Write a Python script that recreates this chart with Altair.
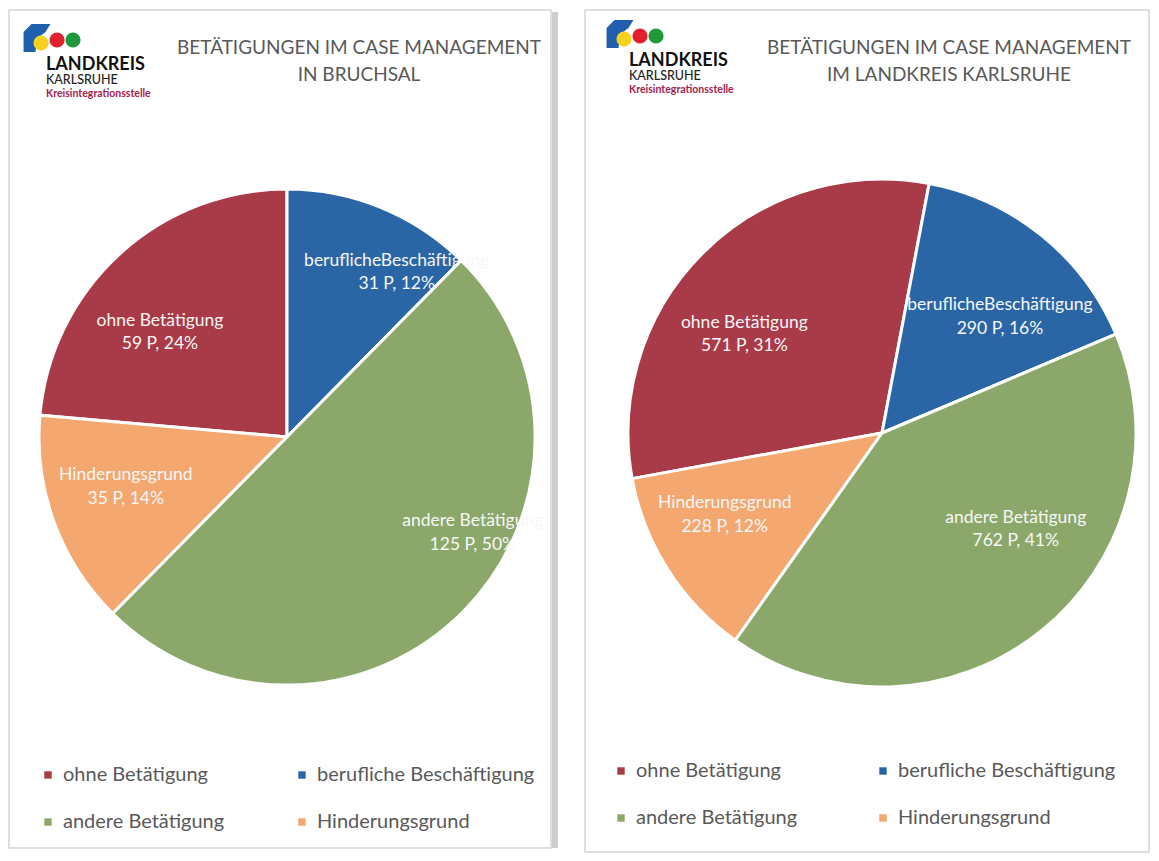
import math
import altair as alt
import pandas as pd

# ---- data ----
categories = ["ohne Betätigung", "berufliche Beschäftigung", "andere Betätigung", "Hinderungsgrund"]
label_names = ["ohne Betätigung", "beruflicheBeschäftigung", "andere Betätigung", "Hinderungsgrund"]
slice_order = [3, 0, 1, 2]
legend_order = ["ohne Betätigung", "andere Betätigung", "berufliche Beschäftigung", "Hinderungsgrund"]
bruchsal_values = [59, 31, 125, 35]
bruchsal_pct = [24, 12, 50, 14]
kreis_values = [571, 290, 762, 228]
kreis_pct = [31, 16, 41, 12]
colors = {"ohne Betätigung": "#A93A48", "berufliche Beschäftigung": "#2A66A6",
          "andere Betätigung": "#8BA86A", "Hinderungsgrund": "#F4A76F"}

title_left = ["BETÄTIGUNGEN IM CASE MANAGEMENT", "IN BRUCHSAL"]
title_right = ["BETÄTIGUNGEN IM CASE MANAGEMENT", "IM LANDKREIS KARLSRUHE"]

FONT = "Lato"
GRAY = "#595959"


def make_df(values, pct):
    return pd.DataFrame({
        "cat": categories,
        "value": values,
        "ord": slice_order,
        "label": [f"{n}\n{v} P, {p}%" for n, v, p in zip(label_names, values, pct)],
    })


def logo(x0, y0):
    marks = []
    blue_path = "M -0.39 -1 L 0.96 -1 L 0.61 -0.43 L 0.04 0 L -0.11 1 L -0.96 1 L -0.96 -0.43 Z"
    marks.append(alt.Chart(pd.DataFrame({"a": [0]})).mark_point(
        shape=blue_path, size=784, filled=True, color="#1F5FAE", opacity=1
    ).encode(x=alt.value(x0 + 14), y=alt.value(y0 + 12)))
    circ = pd.DataFrame({"c": ["y", "r", "g"]})
    for i, col in enumerate(["#F6D21E", "#E4202C", "#1E9A3B"]):
        marks.append(alt.Chart(circ).transform_filter(alt.datum.c == circ.c[i]).mark_circle(
            size=230, color=col, opacity=1
        ).encode(x=alt.value(x0 + 18 + 16 * i), y=alt.value(y0 + 17 - (3 if i else 0))))
    txt = pd.DataFrame({"t": ["LANDKREIS"]})
    marks.append(alt.Chart(txt).mark_text(
        text="LANDKREIS", font=FONT, fontSize=18, fontWeight="bold", color="#111111",
        align="left", baseline="alphabetic"
    ).encode(x=alt.value(x0 + 23), y=alt.value(y0 + 44)))
    marks.append(alt.Chart(txt).mark_text(
        text="KARLSRUHE", font=FONT, fontSize=12.5, fontWeight=500, color="#222222",
        align="left", baseline="alphabetic"
    ).encode(x=alt.value(x0 + 23), y=alt.value(y0 + 58)))
    marks.append(alt.Chart(txt).mark_text(
        text="Kreisintegrationsstelle", font=FONT, fontSize=10.5, fontWeight="bold", color="#A3224E",
        align="left", baseline="alphabetic"
    ).encode(x=alt.value(x0 + 23), y=alt.value(y0 + 71)))
    return marks


def panel(values, pct, title_lines, W, H, cx, cy, R, off_deg, lr, offsets, title_x, logo_xy, leg_xy,
          shadow=False):
    df = make_df(values, pct)
    off = math.radians(off_deg)
    base = alt.Chart(df)
    theta = alt.Theta("value:Q", stack=True, scale=alt.Scale(range=[off, off + 2 * math.pi]))
    color_scale = alt.Scale(domain=legend_order, range=[colors[c] for c in legend_order])
    arcs = base.mark_arc(radius=R, stroke="white", strokeWidth=3).encode(
        theta=theta,
        color=alt.Color("cat:N", scale=color_scale,
                        legend=alt.Legend(
                            title=None, orient="none", legendX=leg_xy[0], legendY=leg_xy[1],
                            columns=2, symbolType="square", symbolSize=55, symbolStrokeWidth=0,
                            labelFontSize=20, labelFont=FONT, labelColor=GRAY, labelLimit=400,
                            columnPadding=leg_xy[2], rowPadding=27, labelOffset=5)),
        order=alt.Order("ord:Q"),
        x=alt.value(cx), y=alt.value(cy),
    )
    # the large green slice is painted over the neighbouring label, as in the original
    arcs_top = base.mark_arc(radius=R, stroke="white", strokeWidth=3).encode(
        theta=theta,
        color=alt.Color("cat:N", scale=color_scale, legend=None),
        opacity=alt.condition(alt.datum.cat == "andere Betätigung", alt.value(1), alt.value(0)),
        order=alt.Order("ord:Q"),
        x=alt.value(cx), y=alt.value(cy),
    )
    lab_base = base.transform_joinaggregate(total="sum(value)").transform_window(
        cum="sum(value)", sort=[alt.SortField("ord")], frame=[None, 0]
    ).transform_calculate(
        mid=f"{off} + 2*PI*(datum.cum - datum.value/2)/datum.total"
    ).transform_calculate(
        lx=f"{cx} + {lr}*sin(datum.mid)", ly=f"{cy} - {lr}*cos(datum.mid)"
    )

    def label(c):
        dx, dy = offsets[c]
        return lab_base.transform_filter(alt.datum.cat == c).mark_text(
            dx=dx, dy=dy - 12, font=FONT, fontSize=17.5, color="#F7F7F7", lineBreak="\n",
            align="center", baseline="middle", lineHeight=23.5
        ).encode(x=alt.X("lx:Q", scale=None, axis=None), y=alt.Y("ly:Q", scale=None, axis=None),
                 text="label:N")

    layers = [arcs, label("berufliche Beschäftigung"), arcs_top]
    for c in ["andere Betätigung", "Hinderungsgrund", "ohne Betätigung"]:
        layers.append(label(c))
    tdf = pd.DataFrame({"t": title_lines})
    for i, t in enumerate(title_lines):
        layers.append(alt.Chart(tdf).transform_filter(alt.datum.t == t).mark_text(
            font=FONT, fontSize=19, color=GRAY, align="center", baseline="middle"
        ).encode(text="t:N", x=alt.value(title_x), y=alt.value(38 + 27 * i)))
    layers += logo(*logo_xy)
    if shadow:
        layers.append(alt.Chart(pd.DataFrame({"a": [0]})).mark_rule(
            color="#CDCDCD", strokeWidth=6
        ).encode(x=alt.value(W + 4), y=alt.value(2), y2=alt.value(H)))
    return alt.layer(*layers).properties(width=W, height=H).resolve_scale(
        theta="independent", color="independent")


left = panel(bruchsal_values, bruchsal_pct, title_left, 542, 838, 278, 427, 248, 0, 160,
             {"berufliche Beschäftigung": (49, -16), "andere Betätigung": (72, -16),
              "Hinderungsgrund": (-11, -5), "ohne Betätigung": (-19, 14)},
             350, (14, 16), (29, 755, 67), shadow=True)
right = panel(kreis_values, kreis_pct, title_right, 564, 842, 297, 423, 254, 10.7, 164,
              {"berufliche Beschäftigung": (15, 12), "andere Betätigung": (31, -31),
               "Hinderungsgrund": (-19, -6), "ohne Betätigung": (-22, 18)},
              364, (21, 12), (26, 751, 75))

chart = alt.hconcat(left, right, spacing=34, bounds="flush").resolve_scale(
    theta="independent", color="independent"
).resolve_legend(color="independent").properties(
    padding=0
).configure_view(stroke="#D4D4D4", strokeWidth=1.5)

chart.save("out.html", embed_options={"renderer": "svg", "actions": False})
